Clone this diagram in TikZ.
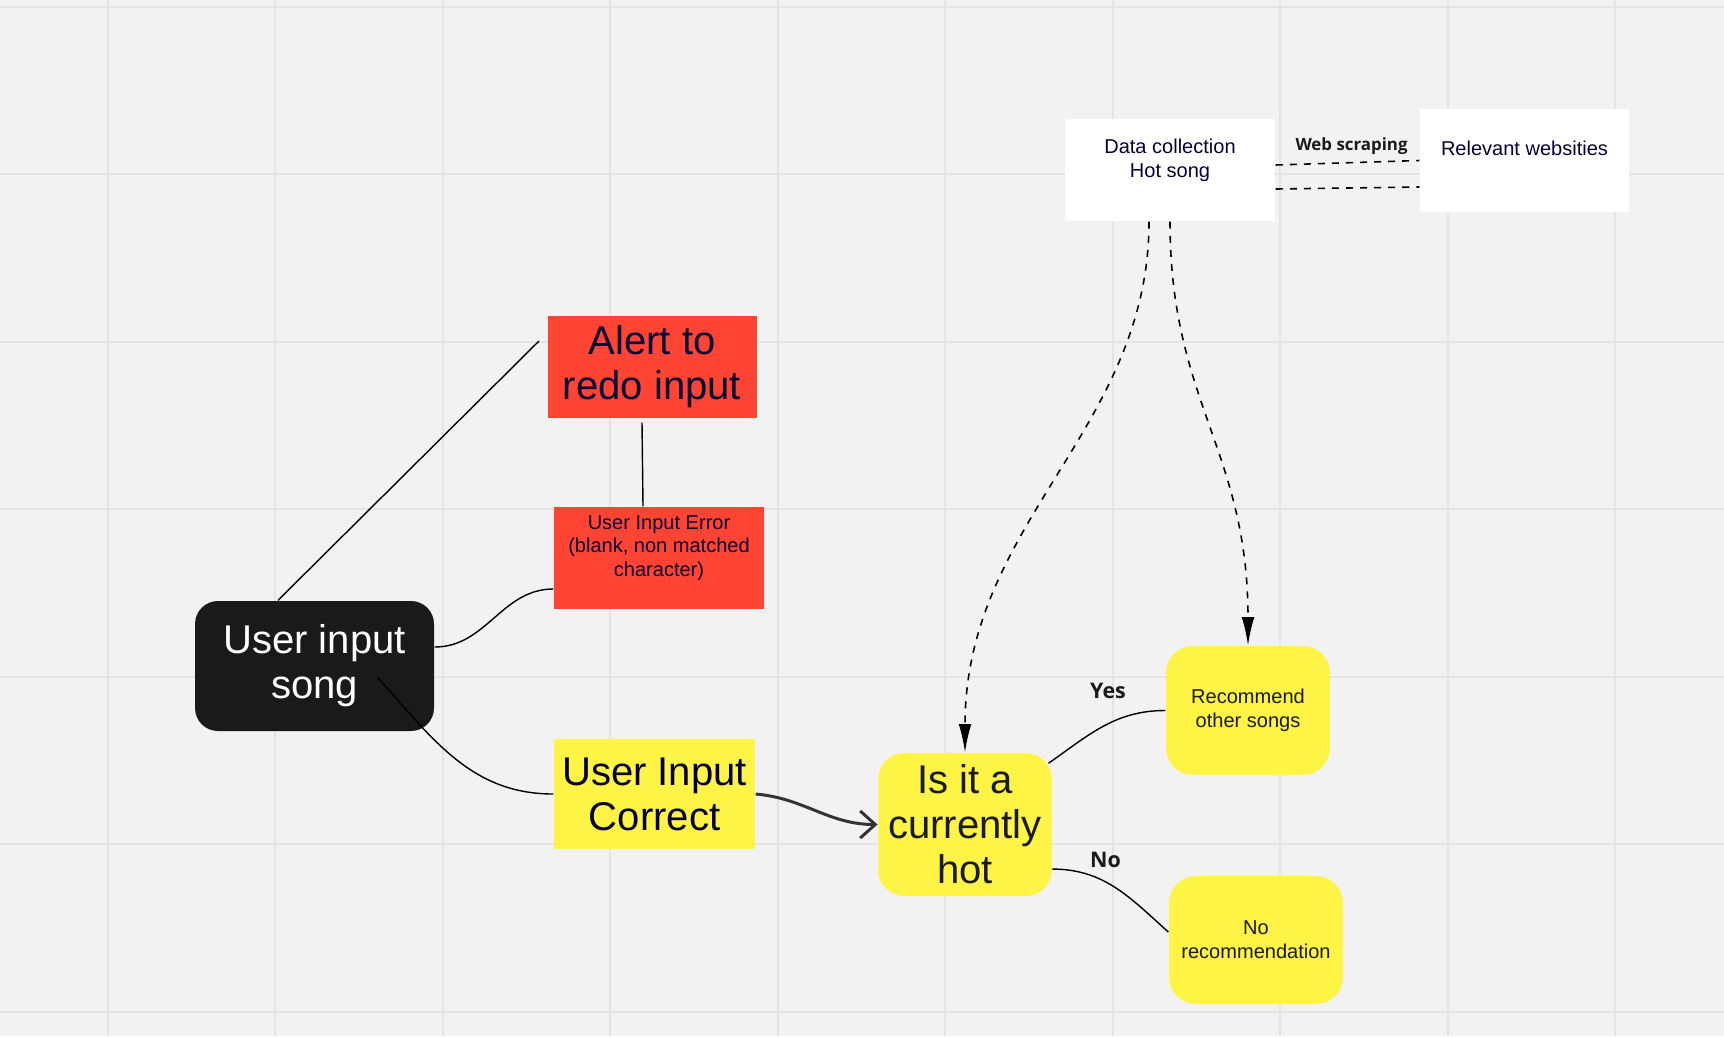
\documentclass[tikz,border=0pt]{standalone}
\usepackage{fontspec}
\setmainfont{Liberation Sans}
\newfontfamily\lblfont{Open Sans}
\usetikzlibrary{arrows.meta}
\definecolor{boardbg}{HTML}{F2F2F2}
\definecolor{gridgray}{HTML}{E4E4E4}
\definecolor{alertred}{HTML}{FF4433}
\definecolor{stickyyellow}{HTML}{FEF445}
\definecolor{navytext}{HTML}{050038}
\definecolor{darkbox}{HTML}{1A1A1A}
\definecolor{arrowgray}{HTML}{333333}

\begin{document}
\begin{tikzpicture}[
    gridline/.style={gridgray, line width=0.02cm},
    bigtext/.style={font=\fontsize{11.4}{12.8}\selectfont, align=center, inner sep=0pt},
    smalltext/.style={font=\fontsize{5.7}{6.8}\selectfont, align=center, inner sep=0pt},
    lbl/.style={font=\lblfont\bfseries\fontsize{6.1}{7}\selectfont, text=darkbox, anchor=base, inner sep=0pt},
    link/.style={black, line width=0.4pt},
    dashlink/.style={black, line width=0.45pt, dash pattern=on 2pt off 2pt},
    tip/.style={-{Latex[length=8pt,width=3.6pt]}}
]
\fill[boardbg] (0,0) rectangle (17.24,-10.36);
\useasboundingbox (0,0) rectangle (17.24,-10.36);
\foreach \i in {0,...,9}
    \draw[gridline] ({1.075+1.675*\i},0) -- ++(0,-10.36);
\foreach \j in {0,...,6}
    \draw[gridline] (0,{-0.067-1.675*\j}) -- ++(17.24,0);

\node[fill=white, smalltext, text=navytext, minimum width=2.10cm, minimum height=1.02cm] (data) at (11.70,-1.70) {Data collection\\Hot song\\\mbox{}};
\node[fill=white, smalltext, text=navytext, minimum width=2.09cm, minimum height=1.03cm] (rel) at (15.245,-1.605) {Relevant websities\\\mbox{}};
\node[fill=alertred, bigtext, text=navytext, minimum width=2.09cm, minimum height=1.02cm] (alert) at (6.52,-3.67) {Alert to\\redo input};
\node[fill=alertred, smalltext, text=navytext, minimum width=2.10cm, minimum height=1.02cm] (uie) at (6.59,-5.58) {User Input Error\\(blank, non matched\\character)\\\mbox{}};
\node[fill=darkbox, rounded corners=0.23cm, bigtext, text=white, minimum width=2.39cm, minimum height=1.30cm] (uis) at (3.145,-6.66) {User input\\song};
\node[fill=stickyyellow, bigtext, text=navytext, minimum width=2.01cm, minimum height=1.10cm] (uic) at (6.545,-7.94) {User Input\\Correct};
\node[fill=stickyyellow, rounded corners=0.26cm, bigtext, text=darkbox, minimum width=1.735cm, minimum height=1.43cm] (hot) at (9.65,-8.245) {Is it a\\currently\\hot};
\node[fill=stickyyellow, rounded corners=0.27cm, smalltext, text=darkbox, minimum width=1.64cm, minimum height=1.29cm] (rec) at (12.48,-7.105) {Recommend\\other songs};
\node[fill=stickyyellow, rounded corners=0.27cm, smalltext, text=darkbox, minimum width=1.74cm, minimum height=1.28cm] (norec) at (12.56,-9.40) {No\\recommendation};

\node[lbl, font=\lblfont\bfseries\fontsize{4.8}{6}\selectfont] (webscrape) at (13.515,-1.50) {Web scraping};
\node[lbl] (yes) at (11.08,-6.98) {Yes};
\node[lbl] (no) at (11.055,-8.67) {No};

\coordinate (alertgap) at (5.39,-3.41);
\draw[link] ([xshift=-0.365cm]uis.north) -- (alertgap);
\draw[link] ([xshift=-0.10cm,yshift=-0.04cm]alert.south) -- ([xshift=-0.16cm]uie.north);
\draw[link] ([yshift=0.19cm]uis.east) to[out=0,in=180] ([yshift=-0.31cm]uie.west);
\draw[link] ([xshift=0.635cm,yshift=-0.12cm]uis.center) to[out=-48,in=180] (uic.west);
\draw[arrowgray, line width=0.85pt, -{Straight Barb[length=4.3pt,width=7.7pt]}] (uic.east) to[out=-5,in=180] (hot.west);

\draw[dashlink] ([yshift=0.05cm]data.east) -- (rel.west);
\draw[dashlink] ([yshift=-0.19cm]data.east) -- ([yshift=-0.265cm]rel.west);
\draw[dashlink, tip] ([xshift=-0.21cm]data.south) .. controls +(0,-2.07) and +(0,2.3) .. (hot.north);
\draw[dashlink, tip] (data.south) .. controls +(0,-1.8) and +(0,1.95) .. (rec.north);

\draw[link] ([xshift=-0.04cm,yshift=-0.11cm]hot.north east) to[out=35,in=180] (rec.west);
\draw[link] (hot.-27) to[out=0,in=138] ([yshift=0.08cm]norec.west);
\end{tikzpicture}
\end{document}
